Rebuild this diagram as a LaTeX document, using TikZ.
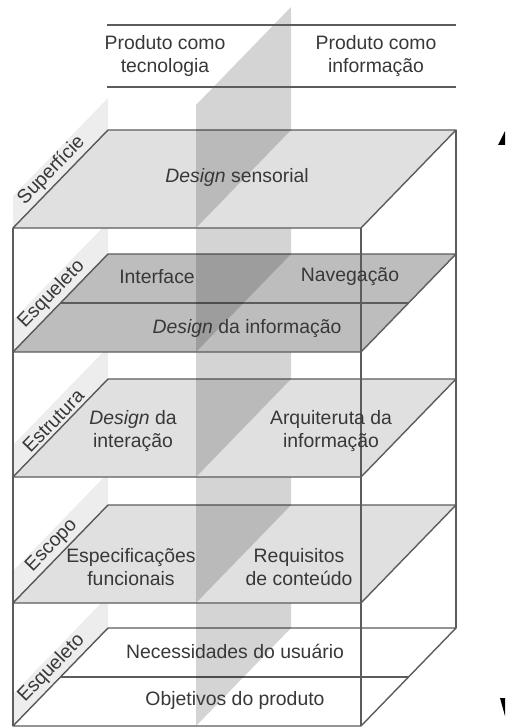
\documentclass[tikz,border=0pt]{standalone}
\usepackage{fontspec}
\setmainfont{Liberation Sans}

\definecolor{edgegray}{gray}{0.36}
\definecolor{textgray}{gray}{0.22}
\definecolor{lightplane}{gray}{0.88}
\definecolor{darkplane}{gray}{0.74}

\begin{document}
\begin{tikzpicture}[x=0.5pt,y=-0.5pt,
    plane/.style={draw=edgegray,line width=0.7pt,line join=round},
    edge/.style={draw=edgegray,line width=0.7pt},
    band/.style={fill=black,fill opacity=0.17},
    strip/.style={fill=black,fill opacity=0.07},
    txt/.style={text=textgray,font=\fontsize{9.7}{11.5}\selectfont,align=center,inner sep=1pt},
    side/.style={txt,rotate=46,anchor=south,inner sep=1.5pt}]
    \useasboundingbox (0,0) rectangle (505,727);

    % bottom plane
    \filldraw[plane,fill=white] (13,726) -- (361,726) -- (456,628) -- (108,628) -- cycle;
    \draw[edge] (60.5,677) -- (408.5,677);
    \fill[strip] (13,726) -- (108,628) -- (108,596) -- (13,694) -- cycle;
    \fill[band] (196,726) -- (291,628) -- (291,505) -- (196,603) -- cycle;

    % escopo
    \filldraw[plane,fill=lightplane] (13,603) -- (361,603) -- (456,505) -- (108,505) -- cycle;
    \fill[strip] (13,603) -- (108,505) -- (108,473) -- (13,571) -- cycle;
    \fill[band] (196,603) -- (291,505) -- (291,379) -- (196,477) -- cycle;

    % estrutura
    \filldraw[plane,fill=lightplane] (13,477) -- (361,477) -- (456,379) -- (108,379) -- cycle;
    \fill[strip] (13,477) -- (108,379) -- (108,347) -- (13,445) -- cycle;
    \fill[band] (196,477) -- (291,379) -- (291,254) -- (196,352) -- cycle;

    % esqueleto
    \filldraw[plane,fill=darkplane] (13,352) -- (361,352) -- (456,254) -- (108,254) -- cycle;
    \draw[edge] (60.5,303) -- (408.5,303);
    \fill[strip] (13,352) -- (108,254) -- (108,222) -- (13,320) -- cycle;
    \fill[band] (196,352) -- (291,254) -- (291,130) -- (196,228) -- cycle;

    % superficie
    \filldraw[plane,fill=lightplane] (13,228) -- (361,228) -- (456,130) -- (108,130) -- cycle;
    \fill[strip] (13,228) -- (108,130) -- (108,98) -- (13,196) -- cycle;
    \fill[band] (196,228) -- (291,130) -- (291,7) -- (196,105) -- cycle;

    % box edges and header rules
    \draw[edge] (13,228) -- (13,726);
    \draw[edge] (361,228) -- (361,726);
    \draw[edge] (456,130) -- (456,628);
    \draw[edge] (107,25) -- (456,25);
    \draw[edge] (107,87) -- (456,87);

    % header
    \node[txt] (tecno) at (165,56) {Produto como\\tecnologia};
    \node[txt] (infor) at (376,56) {Produto como\\informação};

    % side labels
    \node[side] (lsup) at (60.5,179) {Superfície};
    \node[side] (lesq) at (60.5,303) {Esqueleto};
    \node[side] (lest) at (60.5,428) {Estrutura};
    \node[side] (lesc) at (60.5,554) {Escopo};
    \node[side] (lestr) at (60.5,677) {Esqueleto};

    % plane texts
    \node[txt] (sens) at (237,177) {\textit{Design} sensorial};
    \node[txt] (intf) at (157,277) {Interface};
    \node[txt] (nav) at (350,277) {Navegação};
    \node[txt] (dinf) at (247,329) {\textit{Design} da informação};
    \node[txt] (dint) at (133,431) {\textit{Design} da\\interação};
    \node[txt] (arq) at (331,431) {Arquiteruta da\\informação};
    \node[txt] (espec) at (131,567) {Especificações\\funcionais};
    \node[txt] (req) at (299,567) {Requisitos\\de conteúdo};
    \node[txt] (nec) at (235,651) {Necessidades do usuário};
    \node[txt] (obj) at (235,700) {Objetivos do produto};

    % cut arrow tips at the right border
    \fill[black] (498,145) -- (505,131) -- (505,145) -- cycle;
    \fill[black] (500,698) -- (505,698) -- (505,716) -- cycle;
\end{tikzpicture}
\end{document}
